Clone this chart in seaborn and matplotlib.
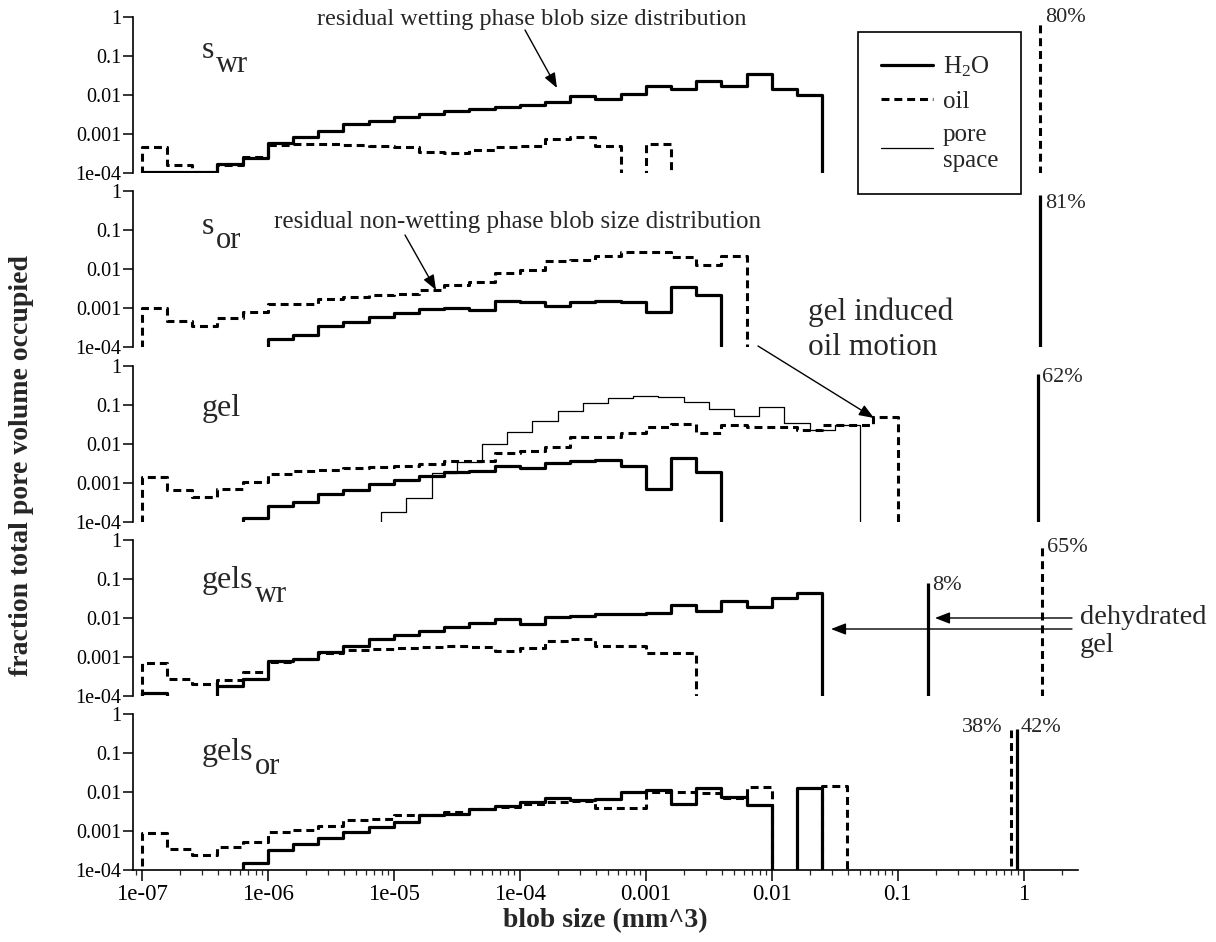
import numpy as np
import pandas as pd
import seaborn as sns
import matplotlib.pyplot as plt
from matplotlib.lines import Line2D
from matplotlib.ticker import LogLocator, NullFormatter

W, H = 1216, 942

# histogram bins are 0.2 decade wide, first edge at 1e-7 mm^3
bin_lo = 1e-7
bin_dec = 0.2
floor = 1e-6  # stands in for empty bins (below the axis)

# --- s_wr ---
swr_h2o_start = 0
swr_h2o = [1.05e-4, 1.05e-4, 1.05e-4, 1.7e-4, 2.4e-4, 5.9e-4, 8.2e-4, 1.2e-3, 1.8e-3,
           2.2e-3, 2.8e-3, 3.3e-3, 3.9e-3, 4.3e-3, 4.9e-3, 5.6e-3, 6.7e-3, 9.5e-3,
           7.7e-3, 0.0104, 0.0175, 0.0139, 0.0226, 0.0175, 0.0355, 0.0145, 0.0098]
swr_oil_start = 0
swr_oil = [4.6e-4, 1.56e-4, 1.05e-4, 1.65e-4, 2.5e-4, 5.2e-4, 5.5e-4, 5.5e-4, 5.3e-4,
           5.0e-4, 4.7e-4, 3.5e-4, 3.3e-4, 3.8e-4, 4.6e-4, 5.0e-4, 7.4e-4, 8.2e-4,
           5.0e-4, 0, 5.5e-4]

# --- s_or ---
sor_oil_start = 0
sor_oil = [1.0e-3, 4.6e-4, 3.5e-4, 5.5e-4, 8.1e-4, 1.3e-3, 1.3e-3, 1.67e-3, 1.95e-3,
           2.1e-3, 2.3e-3, 2.9e-3, 3.9e-3, 4.7e-3, 7.9e-3, 9.3e-3, 0.016, 0.017,
           0.022, 0.028, 0.028, 0.020, 0.0124, 0.021]
sor_h2o_start = 5
sor_h2o = [1.6e-4, 2.0e-4, 3.4e-4, 4.3e-4, 5.9e-4, 7.4e-4, 9.3e-4, 1.0e-3, 9e-4,
           1.55e-3, 1.4e-3, 1.15e-3, 1.45e-3, 1.55e-3, 1.45e-3, 7.7e-4, 3.4e-3, 2.15e-3]

# --- gel ---
gel_oil_start = 0
gel_oil = [1.4e-3, 6.6e-4, 4.5e-4, 7.0e-4, 1.05e-3, 1.7e-3, 2.0e-3, 2.15e-3, 2.4e-3,
           2.5e-3, 2.8e-3, 3.1e-3, 3.6e-3, 3.6e-3, 5.8e-3, 6.7e-3, 8.2e-3, 0.0148,
           0.0148, 0.0188, 0.027, 0.032, 0.0188, 0.031, 0.028, 0.027, 0.023, 0.031,
           0.031, 0.048]
gel_h2o_start = 4
gel_h2o = [1.25e-4, 2.5e-4, 3.2e-4, 5.3e-4, 6.6e-4, 9.4e-4, 1.2e-3, 1.54e-3, 1.9e-3,
           2.0e-3, 2.8e-3, 2.4e-3, 3.2e-3, 3.7e-3, 3.9e-3, 2.8e-3, 7e-4, 4.5e-3, 1.9e-3]
# pore space bins are shifted half a bin
gel_pore_start = 9.5
gel_pore = [1.8e-4, 4.1e-4, 1.8e-3, 3.4e-3, 0.01, 0.02, 0.04, 0.071, 0.11, 0.15,
            0.167, 0.157, 0.117, 0.079, 0.053, 0.087, 0.034, 0.023, 0.031]

# --- gels_wr ---
gswr_oil_start = 0
gswr_oil = [7e-4, 2.7e-4, 2.0e-4, 2.6e-4, 4.2e-4, 7.3e-4, 8.9e-4, 1.26e-3, 1.5e-3,
            1.65e-3, 1.75e-3, 1.8e-3, 1.9e-3, 1.8e-3, 1.44e-3, 1.75e-3, 2.6e-3, 2.9e-3,
            1.86e-3, 1.86e-3, 1.3e-3, 1.3e-3]
gswr_h2o_start = 0
gswr_h2o = [1.2e-4, 0, 0, 1.8e-4, 2.8e-4, 8e-4, 8.9e-4, 1.35e-3, 1.86e-3, 2.9e-3,
            3.6e-3, 4.7e-3, 6e-3, 7.3e-3, 9.2e-3, 6.9e-3, 0.0108, 0.0112, 0.013, 0.013,
            0.0136, 0.022, 0.015, 0.027, 0.019, 0.033, 0.043]

# --- gels_or ---
gsor_oil_start = 0
gsor_oil = [8.8e-4, 3.5e-4, 2.4e-4, 3.9e-4, 5.2e-4, 9.3e-4, 1.07e-3, 1.38e-3, 1.9e-3,
            2.0e-3, 2.5e-3, 2.5e-3, 3.0e-3, 3.6e-3, 4.2e-3, 4.9e-3, 5.4e-3, 5.8e-3,
            4.0e-3, 4.0e-3, 0.0102, 0.0102, 9.5e-3, 7.2e-3, 0.0134, 0, 0, 0.0142]
gsor_h2o_start = 4
gsor_h2o = [1.5e-4, 3.2e-4, 4.6e-4, 6.7e-4, 9.3e-4, 1.3e-3, 1.66e-3, 2.5e-3, 2.8e-3,
            3.6e-3, 4.4e-3, 5.6e-3, 6.9e-3, 6.2e-3, 6.5e-3, 0.0102, 0.011, 4.9e-3,
            0.0129, 7.5e-3, 4.7e-3, 0, 0.0124]

# single large blobs (size, fraction, phase, label)
big_swr = [(1.35, 0.80, "oil", "80%")]
big_sor = [(1.35, 0.81, "h2o", "81%")]
big_gel = [(1.30, 0.62, "h2o", "62%")]
big_gswr = [(0.174, 0.08, "h2o", "8%"), (1.39, 0.65, "oil", "65%")]
big_gsor = [(0.79, 0.38, "oil", "38%"), (0.88, 0.42, "h2o", "42%")]

xticks = [1e-7, 1e-6, 1e-5, 1e-4, 1e-3, 1e-2, 1e-1, 1]
xticklabels = ["1e-07", "1e-06", "1e-05", "1e-04", "0.001", "0.01", "0.1", "1"]
yticks = [1e-4, 1e-3, 1e-2, 1e-1, 1]
yticklabels = ["1e-04", "0.001", "0.01", "0.1", "1"]

sns.set_style("ticks")
plt.rcParams['font.family'] = ['Liberation Serif', 'DejaVu Serif']
plt.rcParams['mathtext.fontset'] = 'custom'
plt.rcParams['mathtext.rm'] = 'Liberation Serif'
plt.rcParams['mathtext.it'] = 'Liberation Serif:italic'
plt.rcParams['mathtext.bf'] = 'Liberation Serif:bold'

styles = {
    "h2o": dict(linewidth=2.3, linestyle="-"),
    "oil": dict(linewidth=2.2, linestyle=(0, (2.6, 1.6))),
    "pore": dict(linewidth=0.9, linestyle="-"),
}


def fx(px):
    return px / W


def fy(py):
    return 1 - py / H


def steps(vals, start):
    n = len(vals)
    k = np.arange(n + 1) + start
    edges = bin_lo * 10 ** (bin_dec * k)
    x = np.concatenate([[edges[0]], edges])
    y = np.concatenate([[floor], [v if v else floor for v in vals], [floor]])
    return pd.DataFrame({"size": x, "frac": y})


def draw(ax, vals, start, kind):
    df = steps(vals, start)
    sns.lineplot(data=df, x="size", y="frac", ax=ax, estimator=None, sort=False,
                 drawstyle="steps-post", color="black", **styles[kind])


fig = plt.figure(figsize=(W / 100, H / 100), dpi=100)

tops = [17, 191, 366, 540, 714]
ph = 156
left_px, right_px = 133, 1078

panels = [
    [(swr_h2o, swr_h2o_start, "h2o"), (swr_oil, swr_oil_start, "oil")],
    [(sor_h2o, sor_h2o_start, "h2o"), (sor_oil, sor_oil_start, "oil")],
    [(gel_pore, gel_pore_start, "pore"), (gel_h2o, gel_h2o_start, "h2o"),
     (gel_oil, gel_oil_start, "oil")],
    [(gswr_h2o, gswr_h2o_start, "h2o"), (gswr_oil, gswr_oil_start, "oil")],
    [(gsor_h2o, gsor_h2o_start, "h2o"), (gsor_oil, gsor_oil_start, "oil")],
]
bigs = [big_swr, big_sor, big_gel, big_gswr, big_gsor]

axes = []
for i, t in enumerate(tops):
    ax = fig.add_axes([fx(left_px), fy(t + ph), fx(right_px - left_px), ph / H])
    ax.set_facecolor("none")
    for vals, start, kind in panels[i]:
        draw(ax, vals, start, kind)
    for xs, frac, kind, lab in bigs[i]:
        ax.vlines(xs, floor, frac, colors="black", **styles[kind])
    ax.set_xscale("log")
    ax.set_yscale("log")
    ax.set_xlim(8.5e-8, 2.7)
    ax.set_ylim(1e-4, 1)
    ax.set_yticks(yticks)
    ax.set_yticklabels(yticklabels)
    ax.yaxis.set_minor_locator(LogLocator(base=10, subs=np.arange(2, 10)))
    ax.yaxis.set_minor_formatter(NullFormatter())
    ax.tick_params(axis="y", which="major", length=7.5, width=1.1, direction="out",
                   labelsize=14.5, pad=1, color="black", labelcolor="black")
    ax.tick_params(axis="y", which="minor", length=3, width=0.8, direction="out")
    ax.set_xlabel("")
    ax.set_ylabel("")
    for s in ["top", "right"]:
        ax.spines[s].set_visible(False)
    ax.spines["left"].set_linewidth(1.2)
    ax.spines["left"].set_color("black")
    if i < 4:
        ax.spines["bottom"].set_visible(False)
        ax.tick_params(axis="x", which="both", bottom=False, labelbottom=False)
    else:
        ax.spines["bottom"].set_linewidth(1.2)
        ax.spines["bottom"].set_color("black")
        ax.set_xticks(xticks)
        ax.set_xticklabels(xticklabels)
        ax.xaxis.set_minor_locator(LogLocator(base=10, subs=np.arange(2, 10)))
        ax.xaxis.set_minor_formatter(NullFormatter())
        ax.tick_params(axis="x", which="major", length=8, width=1.1, direction="out",
                       labelsize=16.5, pad=2, color="black", labelcolor="black")
        ax.tick_params(axis="x", which="minor", length=3.5, width=0.9, direction="out")
        ax.set_xlabel("blob size (mm^3)", fontsize=20, fontweight="bold", labelpad=2)
    ax.grid(False)
    axes.append(ax)

# panel labels (subscripts drawn the old way, full size, shifted down)
lab_fs = 23
panel_labels = [("s", "wr", 58), ("s", "or", 234), ("gel", "", 416),
                ("gels", "wr", 588), ("gels", "or", 760)]
for main, sub, base in panel_labels:
    t = fig.text(fx(202), fy(base), main, fontsize=lab_fs, va="baseline")
    if sub:
        axes[0].annotate(sub, xy=(1, 0), xycoords=t, xytext=(1, -5),
                         textcoords="offset points", fontsize=lab_fs - 1,
                         va="baseline", ha="left", annotation_clip=False)

# big blob percentages
pct = [(1045, 18, "80%", "left"), (1045, 203, "81%", "left"), (1042, 378, "62%", "left"),
       (932, 585, "8%", "left"), (1047, 547, "65%", "left"),
       (1003, 728, "38%", "right"), (1021, 728, "42%", "left")]
for px, py, s, ha in pct:
    fig.text(fx(px), fy(py), s, fontsize=16, ha=ha, va="center")

fig.text(fx(532), fy(20), "residual wetting phase blob size distribution",
         fontsize=17.5, ha="center", va="center")
fig.text(fx(518), fy(222), "residual non-wetting phase blob size distribution",
         fontsize=18, ha="center", va="center")
fig.text(fx(808), fy(312), "gel induced", fontsize=22.5, ha="left", va="center")
fig.text(fx(808), fy(348), "oil motion", fontsize=22.5, ha="left", va="center")
fig.text(fx(1080), fy(617), "dehydrated", fontsize=20.5, ha="left", va="center")
fig.text(fx(1080), fy(645), "gel", fontsize=20.5, ha="left", va="center")

arrows = [((525, 30), (557, 88)), ((405, 235), (436, 290)), ((758, 346), (874, 418)),
          ((1072, 618), (935, 618)), ((1072, 629), (831, 629))]
for (x0, y0), (x1, y1) in arrows:
    axes[0].annotate("", xy=(fx(x1), fy(y1)), xytext=(fx(x0), fy(y0)),
                     xycoords="figure fraction", textcoords="figure fraction",
                     annotation_clip=False,
                     arrowprops=dict(arrowstyle="-|>,head_length=0.9,head_width=0.35",
                                     color="black", lw=1.0, shrinkA=0, shrinkB=0))

fig.text(fx(22), fy(465), "fraction total pore volume occupied", rotation=90,
         fontsize=20, fontweight="bold", ha="center", va="center")

handles = [Line2D([], [], color="black", **styles["h2o"]),
           Line2D([], [], color="black", **styles["oil"]),
           Line2D([], [], color="black", **styles["pore"])]
leg = fig.legend(handles, ["H$_2$O", "oil", "pore\nspace"], loc="upper left",
                 bbox_to_anchor=(fx(858), fy(32)), fontsize=18, frameon=True,
                 fancybox=False, framealpha=1, edgecolor="black", handlelength=2.1,
                 handletextpad=0.4, labelspacing=0.45, borderpad=0.9, borderaxespad=0)
leg.get_frame().set_linewidth(1.2)

fig.savefig("out.png", dpi=100)
